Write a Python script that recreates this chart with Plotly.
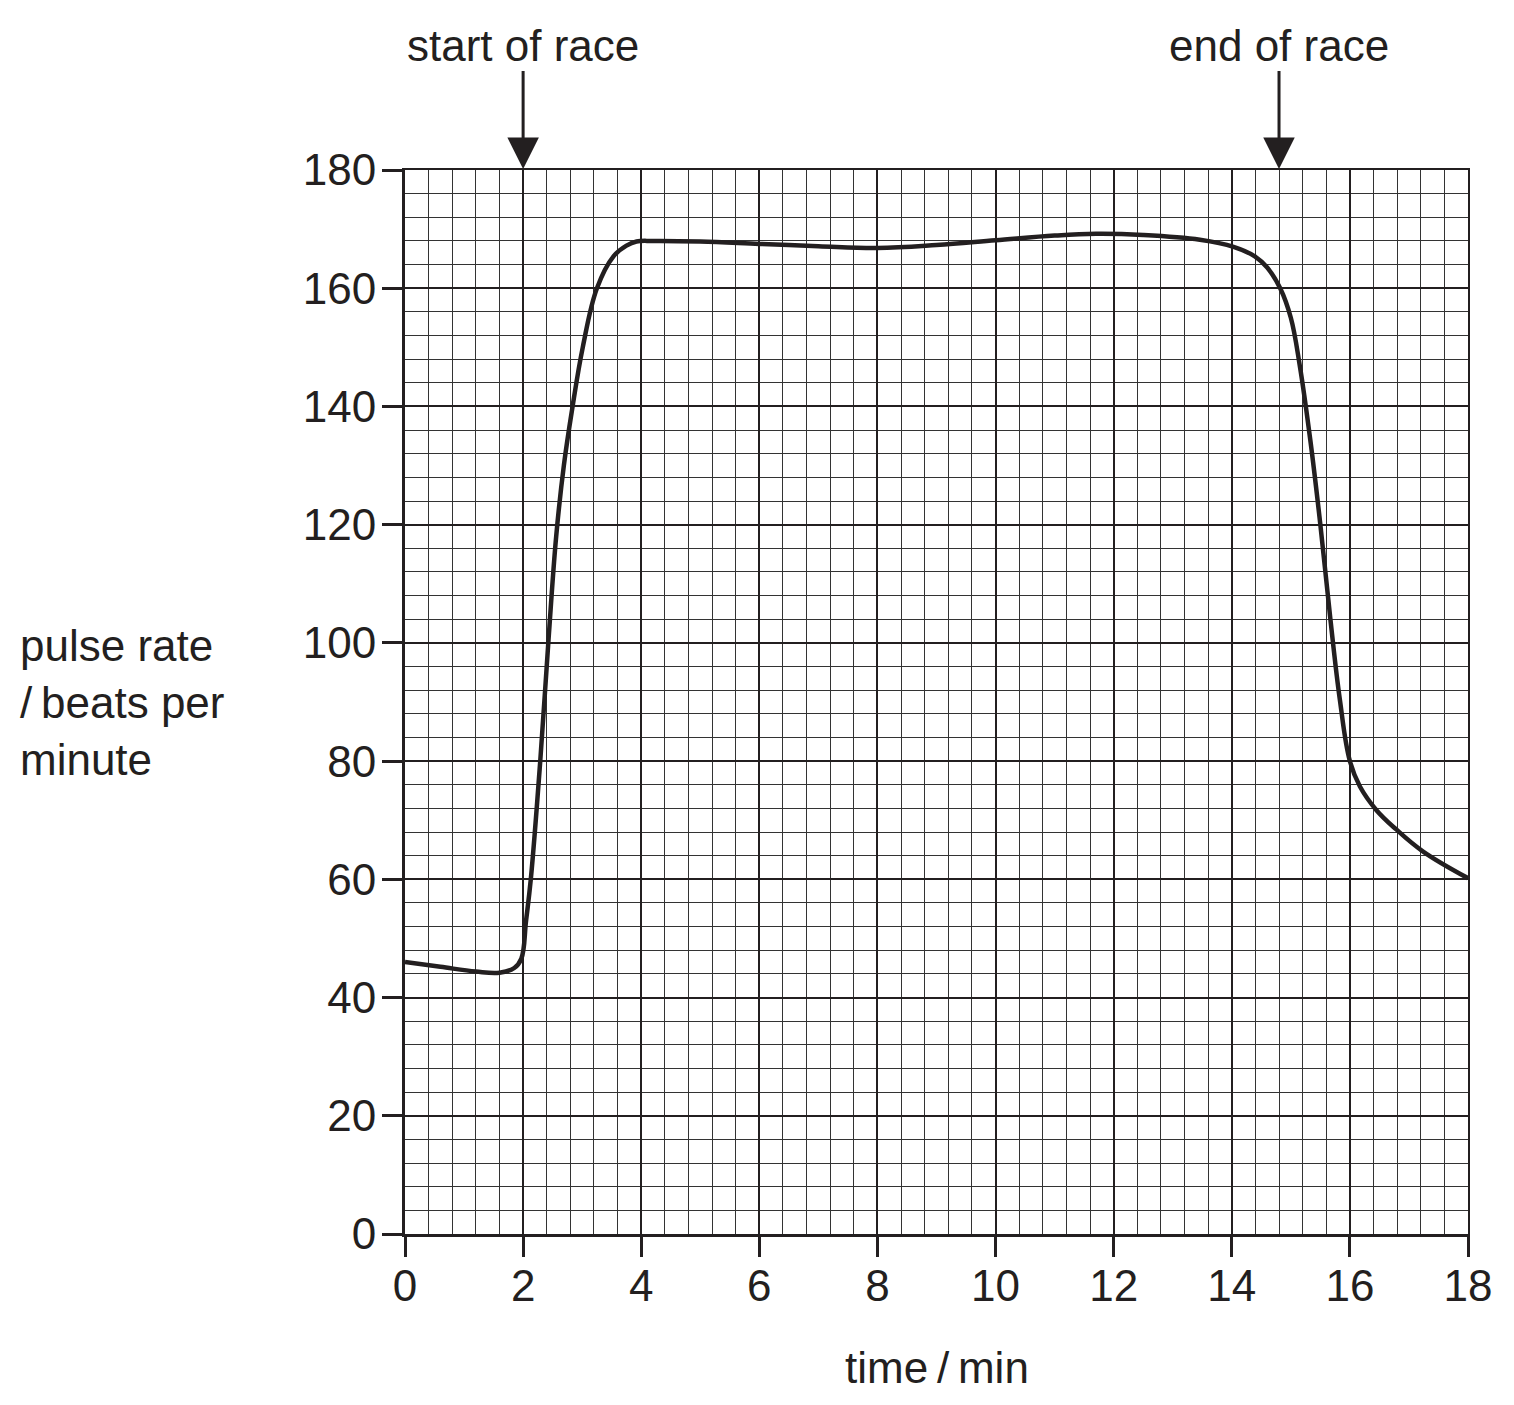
import plotly.graph_objects as go

# ---- data ----
time_min = [0, 0.6, 1.2, 1.6, 1.85, 1.97, 2.05, 2.13, 2.29, 2.43, 2.56, 2.69, 2.83, 3.01,
            3.25, 3.53, 3.75, 3.92, 4.2, 5, 6, 7, 8, 9, 10, 11, 11.7, 12.5, 13.46,
            14.03, 14.39, 14.6, 14.82, 15.0, 15.15, 15.33, 15.5, 15.67, 15.83, 16.0, 16.17,
            16.45, 16.79, 17.24, 18]
pulse_rate = [46, 45.2, 44.4, 44.2, 45, 46.6, 53, 60, 80, 100.5, 118, 130, 139.5, 150,
              160, 165.4, 167.2, 167.9, 168, 167.9, 167.5, 167.1, 166.8, 167.3, 168.1, 168.9,
              169.2, 169, 168.2, 167, 165.4, 163.5, 160, 155, 147, 134.3, 120, 104, 90.4, 80,
              75.7, 71.7, 68.4, 64.7, 60.2]

x_ticks = [0, 2, 4, 6, 8, 10, 12, 14, 16, 18]
y_ticks = [0, 20, 40, 60, 80, 100, 120, 140, 160, 180]
markers = [("start of race", 2.0), ("end of race", 14.8)]

INK = "#231f20"
FONT = "Liberation Sans, Arial, Helvetica, sans-serif"

fig = go.Figure()

# placeholder on main axes so the base subplot exists
fig.add_trace(go.Scatter(x=[None], y=[None], xaxis="x", yaxis="y",
                         showlegend=False, hoverinfo="skip"))
# the curve drawn on the overlay subplot (on top of all grids)
fig.add_trace(go.Scatter(
    x=time_min, y=pulse_rate, mode="lines",
    line=dict(color=INK, width=4.5, shape="spline", smoothing=1.1),
    xaxis="x2", yaxis="y2", showlegend=False, hoverinfo="skip"))

W, H = 1514, 1405
L, R, T, B = 405, 46, 170, 171

fig.update_layout(
    width=W, height=H,
    margin=dict(l=L, r=R, t=T, b=B, pad=0),
    paper_bgcolor="white", plot_bgcolor="white",
    font=dict(family=FONT, color=INK, size=44),
    xaxis=dict(
        range=[0, 18], tickmode="array", tickvals=x_ticks,
        ticktext=[str(v) for v in x_ticks],
        showgrid=True, gridcolor=INK, gridwidth=1.7,
        minor=dict(dtick=0.4, tick0=0, showgrid=True, gridcolor="#333333", gridwidth=1.2),
        showline=True, linecolor=INK, linewidth=3,
        ticks="outside", ticklen=20, tickwidth=3, tickcolor=INK,
        tickfont=dict(size=44, family=FONT, color=INK),
        ticklabelstandoff=-9,
        zeroline=False, fixedrange=True,
    ),
    yaxis=dict(
        range=[0, 180], tickmode="array", tickvals=y_ticks,
        ticktext=[str(v) for v in y_ticks],
        showgrid=True, gridcolor=INK, gridwidth=1.7,
        minor=dict(dtick=4, tick0=0, showgrid=True, gridcolor="#333333", gridwidth=1.2),
        showline=True, linecolor=INK, linewidth=3,
        ticks="outside", ticklen=20, tickwidth=3, tickcolor=INK,
        tickfont=dict(size=44, family=FONT, color=INK),
        ticklabelstandoff=-3,
        zeroline=False, fixedrange=True,
    ),
    xaxis2=dict(
        range=[0, 18], overlaying="x", side="top", dtick=4, tick0=0,
        showgrid=True, gridcolor=INK, gridwidth=2.4,
        showticklabels=False, ticks="", showline=True, linecolor=INK, linewidth=2,
        zeroline=False, fixedrange=True,
    ),
    yaxis2=dict(
        range=[0, 180], overlaying="y", side="right", dtick=40, tick0=0,
        showgrid=True, gridcolor=INK, gridwidth=2.4,
        showticklabels=False, ticks="", showline=True, linecolor=INK, linewidth=2,
        zeroline=False, fixedrange=True,
    ),
)

annotations = []
for label, xpos in markers:
    annotations.append(dict(
        x=xpos, y=180, xref="x", yref="y", text=label, showarrow=True,
        ax=0, ay=-125, axref="pixel", ayref="pixel",
        arrowhead=2, arrowsize=2.1, arrowwidth=3, arrowcolor=INK, standoff=1,
        font=dict(size=44, family=FONT, color=INK),
    ))

pw = W - L - R
ph = H - T - B
annotations.append(dict(
    x=0.5, y=-(1367 - (H - B)) / ph, xref="paper", yref="paper",
    text="time\u2009/\u2009min", showarrow=False, xanchor="center", yanchor="middle",
    font=dict(size=44, family=FONT, color=INK),
))
annotations.append(dict(
    x=(18 - L) / pw, y=((H - B) - 702) / ph, xref="paper", yref="paper",
    text="pulse rate<br>/\u2009beats per<br>minute", showarrow=False,
    xanchor="left", yanchor="middle", align="left",
    font=dict(size=44, family=FONT, color=INK),
))
fig.update_layout(annotations=annotations)

fig.write_html("out.html")
